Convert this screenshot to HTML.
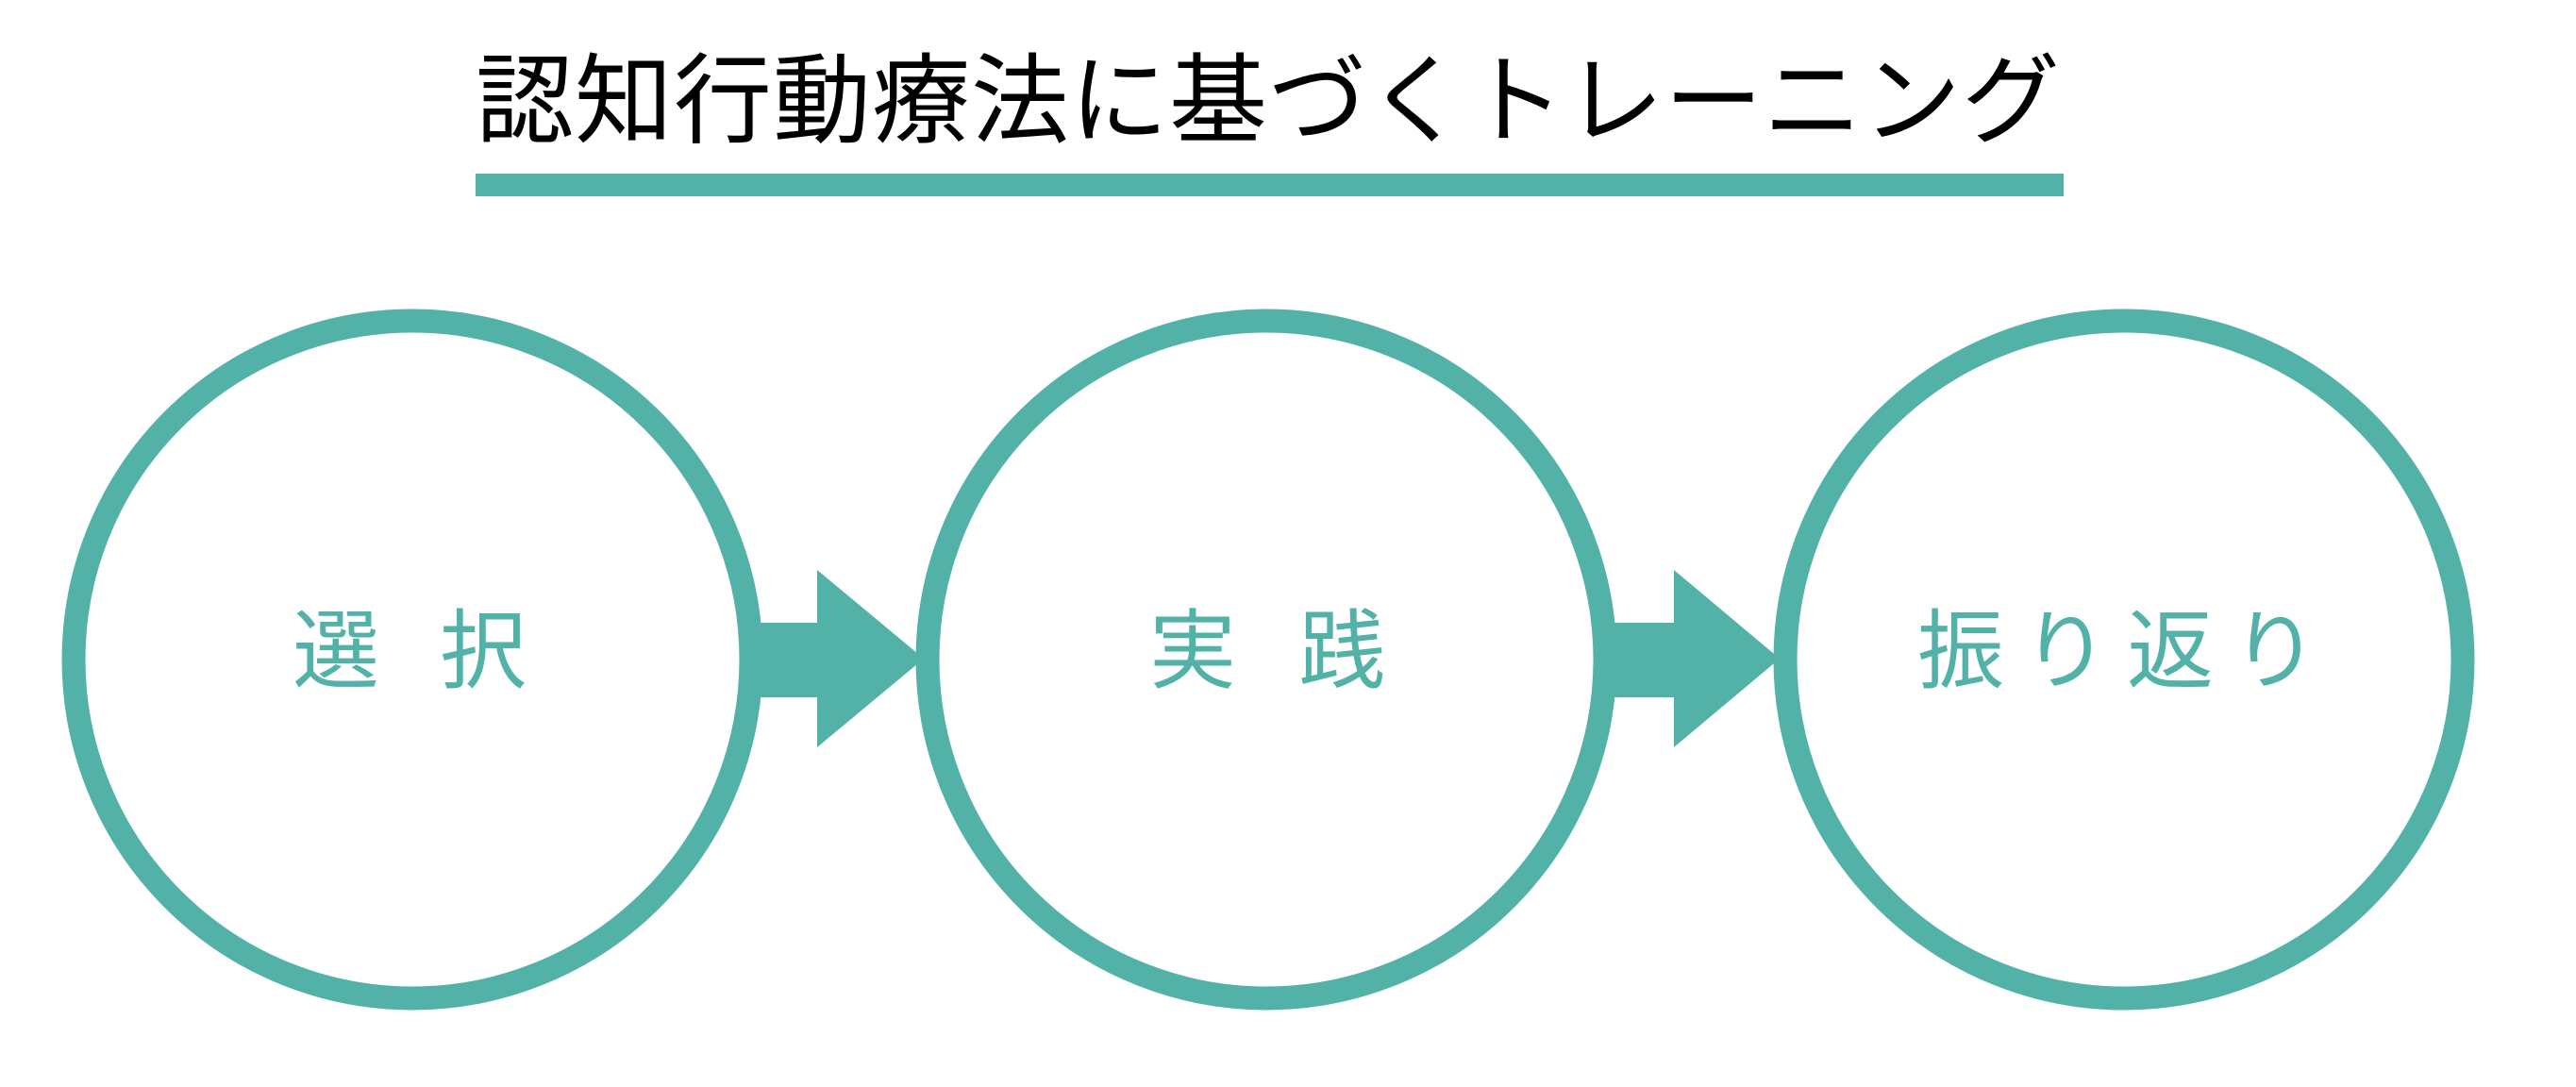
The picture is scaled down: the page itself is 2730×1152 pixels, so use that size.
<!DOCTYPE html>
<html><head><meta charset="utf-8"><style>
body{margin:0;width:2730px;height:1152px;background:#fff;position:relative;overflow:hidden;font-family:"Liberation Sans","Noto Sans CJK JP",sans-serif}
.t{position:absolute;white-space:nowrap;line-height:1}
</style></head><body>
<div class="t" style="left:504px;top:56px;width:1680px;font-size:104px;color:#000;text-align:center;letter-spacing:1px">認知行動療法に基づくトレーニング</div>
<svg width="2730" height="1152" style="position:absolute;left:0;top:0">
<rect x="504" y="184" width="1683" height="24" fill="#52b2a7"/>
<g fill="none" stroke="#52b2a7" stroke-width="25">
<circle cx="437" cy="699" r="359"/>
<circle cx="1342" cy="699" r="359"/>
<circle cx="2251" cy="699" r="359"/>
</g>
<g fill="#52b2a7">
<rect x="805" y="660" width="70" height="79"/>
<polygon points="866,604 979,698 866,792"/>
<rect x="1710" y="660" width="70" height="79"/>
<polygon points="1774,604 1886,698 1774,792"/>
</g>
</svg>
<div class="t" style="left:310px;top:645px;font-size:92px;color:#52b2a7;letter-spacing:64px">選択</div>
<div class="t" style="left:1218px;top:645px;font-size:92px;color:#52b2a7;letter-spacing:66px">実践</div>
<div class="t" style="left:2032px;top:645px;font-size:92px;color:#52b2a7;letter-spacing:19px">振り返り</div>
</body></html>
